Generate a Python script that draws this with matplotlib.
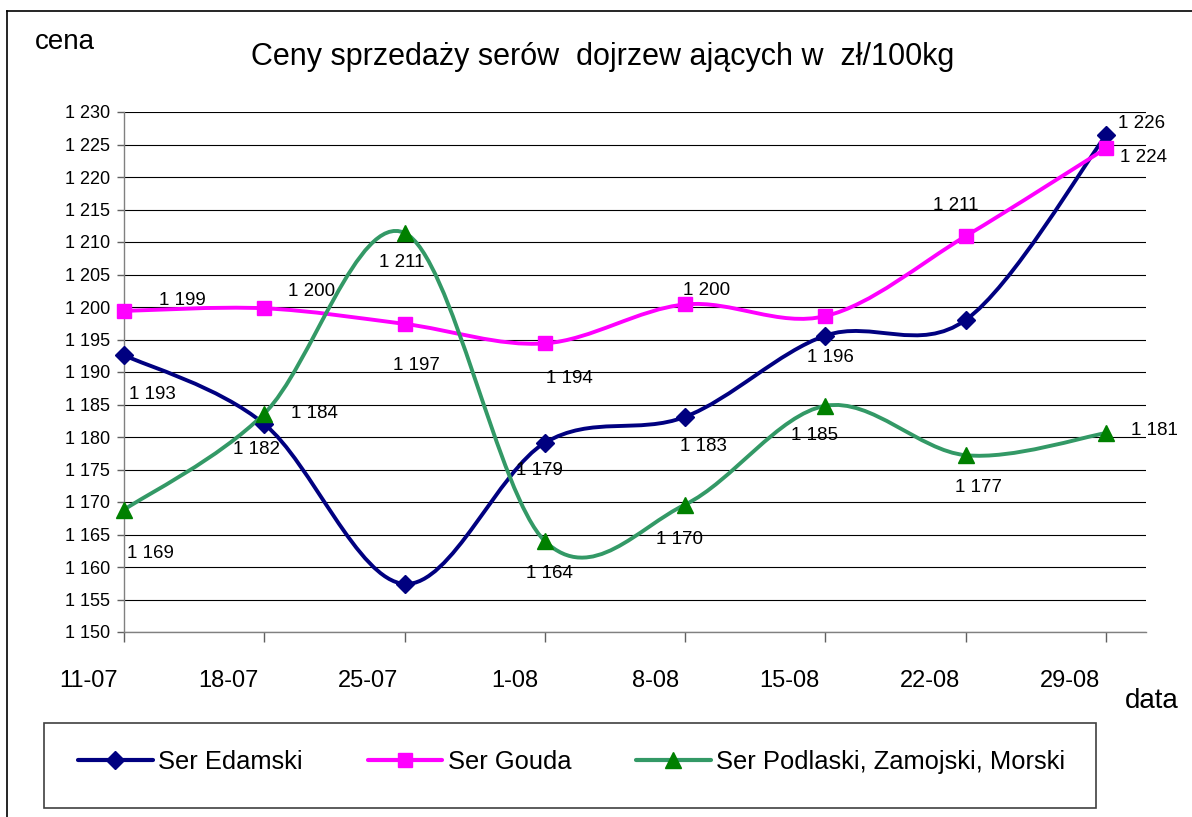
import numpy as np
import matplotlib
matplotlib.use("Agg")
import matplotlib.pyplot as plt
from matplotlib.path import Path
from matplotlib.patches import PathPatch, Rectangle
from matplotlib.lines import Line2D

plt.rcParams['font.family'] = ['Liberation Sans', 'DejaVu Sans']

# ---------------- data ----------------
dates = ['11-07', '18-07', '25-07', '1-08', '8-08', '15-08', '22-08', '29-08']
day_step = 7
x_max_days = 51

edamski = [1192.6, 1182.0, 1157.4, 1179.1, 1183.1, 1195.6, 1198.0, 1226.4]
gouda = [1199.4, 1199.8, 1197.4, 1194.4, 1200.4, 1198.6, 1210.9, 1224.4]
podlaski = [1168.8, 1183.6, 1211.4, 1164.0, 1169.6, 1184.8, 1177.2, 1180.6]

series_names = ['Ser Edamski', 'Ser Gouda', 'Ser Podlaski, Zamojski, Morski']

# which data labels are visible in the picture
edamski_show = [1, 1, 0, 1, 1, 1, 0, 1]
gouda_show = [1, 1, 1, 1, 1, 0, 1, 1]
podlaski_show = [1, 1, 1, 1, 1, 1, 1, 1]

y_min, y_max, y_step = 1150, 1230, 5

# ---------------- styles ----------------
line_colors = ['#000080', '#FF00FF', '#339966']
marker_colors = ['#000080', '#FF00FF', '#008000']
markers = ['D', 's', '^']
marker_sizes = [9.0, 10.5, 11.5]
# label offsets in pixels (dx right, dy down) for each series
label_offsets = [
    [(28, 39), (-8, 25), (0, 0), (-5, 28), (18, 30), (5, 22), (0, 0), (36, -12)],
    [(58, -10), (47, -17), (12, 42), (25, 35), (21, -14), (0, 0), (-10, -31), (38, 9)],
    [(26, 44), (50, 0), (-3, 30), (5, 32), (-6, 35), (-11, 30), (13, 32), (49, -3)],
]

W, H = 1192, 817
DPI = 100
PT = 72.0 / DPI
fig = plt.figure(figsize=(W / DPI, H / DPI), dpi=DPI)
fig.patch.set_facecolor('white')

ax_l, ax_r, ax_t, ax_b = 124, 1146, 112, 632
ax = fig.add_axes([ax_l / W, 1 - ax_b / H, (ax_r - ax_l) / W, (ax_b - ax_t) / H])

x = np.arange(len(dates)) * day_step
ax.set_xlim(0, x_max_days)
ax.set_ylim(y_min, y_max)


def smooth_path(xs, ys):
    P = np.column_stack([xs, ys]).astype(float)
    n = len(P)
    verts = [P[0]]
    codes = [Path.MOVETO]
    for i in range(n - 1):
        p0 = P[i - 1] if i > 0 else P[i]
        p1 = P[i]
        p2 = P[i + 1]
        p3 = P[i + 2] if i + 2 < n else P[i + 1]
        c1 = p1 + (p2 - p0) / 6.0
        c2 = p2 - (p3 - p1) / 6.0
        verts += [c1, c2, p2]
        codes += [Path.CURVE4] * 3
    return Path(np.array(verts), codes)


all_series = [edamski, gouda, podlaski]
all_show = [edamski_show, gouda_show, podlaski_show]
handles = []
for k, ys in enumerate(all_series):
    patch = PathPatch(smooth_path(x, ys), facecolor='none', edgecolor=line_colors[k],
                      lw=2.8, capstyle='round', joinstyle='round', zorder=3 + k * 0.1)
    ax.add_patch(patch)
    ax.plot(x, ys, linestyle='none', marker=markers[k], markersize=marker_sizes[k],
            color=marker_colors[k], markeredgecolor=marker_colors[k], zorder=4 + k * 0.1,
            clip_on=False)
    handles.append(Line2D([], [], color=line_colors[k], lw=3.0, marker=markers[k],
                          markersize=marker_sizes[k], markerfacecolor=marker_colors[k],
                          markeredgecolor=marker_colors[k], solid_capstyle='round'))
    for i, v in enumerate(ys):
        if not all_show[k][i]:
            continue
        r = int(round(v))
        txt = f"{r // 1000} {r % 1000:03d}"
        dx, dy = label_offsets[k][i]
        ax.annotate(txt, xy=(x[i], v), xytext=(dx * PT, -dy * PT),
                    textcoords='offset points', ha='center', va='center',
                    fontsize=13.5, color='black', zorder=6, annotation_clip=False)

# grid & axes
yt = np.arange(y_min, y_max + 0.1, y_step)
ax.set_yticks(yt)
ax.set_yticklabels([f"{int(v) // 1000} {int(v) % 1000:03d}" for v in yt], fontsize=13)
ax.yaxis.grid(True, color='black', lw=0.8)
ax.set_axisbelow(True)
ax.set_xticks(x)
ax.set_xticklabels([])
for xi, d in zip(x, dates):
    ax.annotate(d, xy=(xi, 0), xycoords=('data', 'axes fraction'),
                xytext=(-6 * PT, -55 * PT), textcoords='offset points',
                ha='right', va='baseline', fontsize=17, annotation_clip=False)

for s in ['top', 'right']:
    ax.spines[s].set_visible(False)
ax.spines['left'].set_color('#808080')
ax.spines['bottom'].set_color('#808080')
ax.spines['left'].set_linewidth(1.0)
ax.spines['bottom'].set_linewidth(1.0)
ax.tick_params(axis='y', direction='out', length=5, width=1, color='#606060', pad=5)
ax.tick_params(axis='x', direction='out', length=7, width=1, color='#606060')

# texts
fig.text(603 / W, 1 - 65 / H, 'Ceny sprzedaży serów  dojrzew ających w  zł/100kg',
         ha='center', va='baseline', fontsize=22)
fig.text(35 / W, 1 - 49 / H, 'cena', ha='left', va='baseline', fontsize=20)
fig.text(1125 / W, 1 - 708 / H, 'data', ha='left', va='baseline', fontsize=20)

# legend box drawn separately, legend entries without frame
fig.add_artist(Rectangle((44 / W, 1 - 808 / H), (1096 - 44) / W, (808 - 723) / H,
                         transform=fig.transFigure, facecolor='white',
                         edgecolor='#404040', lw=1.2, zorder=1))
leg = fig.legend(handles, series_names, loc='center left',
                 bbox_to_anchor=(78 / W, 1 - 762 / H), ncol=3, fontsize=18.4,
                 frameon=False, handlelength=2.93, handletextpad=0.2,
                 columnspacing=2.54, borderpad=0, borderaxespad=0, numpoints=1)
leg.set_zorder(2)

# outer chart border (top and left visible)
fig.add_artist(Line2D([7 / W, 1.0], [1 - 11 / H, 1 - 11 / H], color='black', lw=1.2,
                      transform=fig.transFigure))
fig.add_artist(Line2D([7 / W, 7 / W], [1 - 11 / H, 0.0], color='black', lw=1.2,
                      transform=fig.transFigure))

fig.savefig('out.png', dpi=DPI, facecolor='white')
